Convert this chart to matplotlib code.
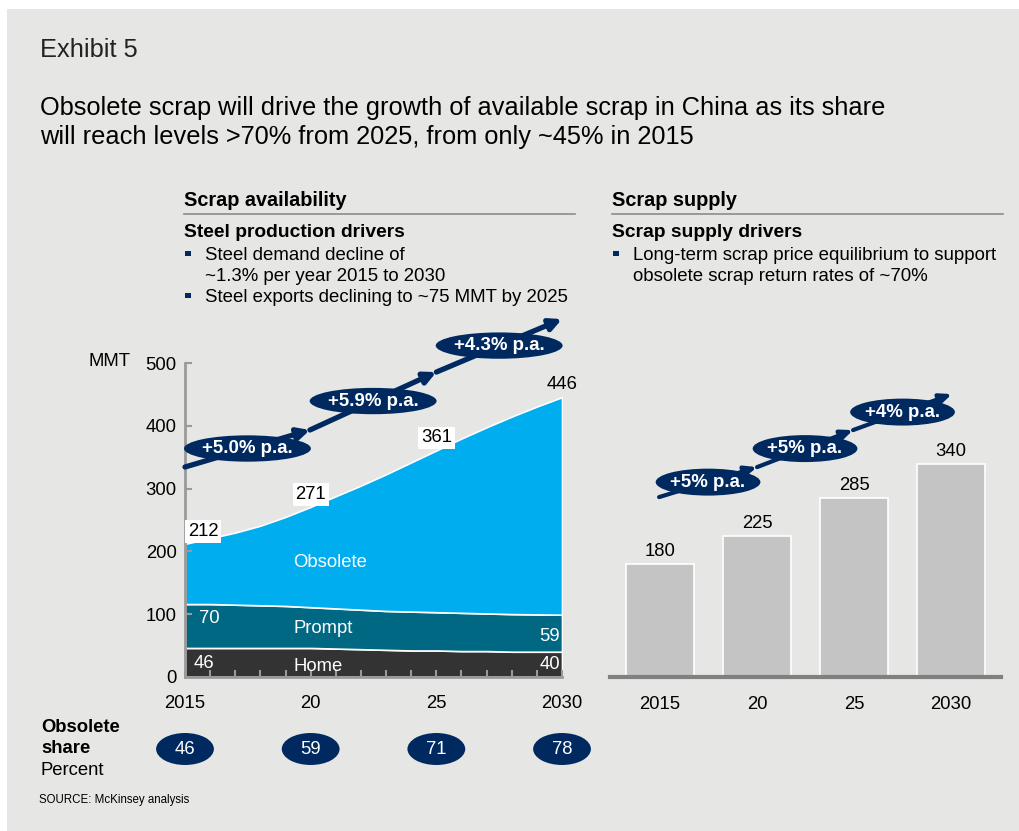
import matplotlib
matplotlib.use("Agg")
import matplotlib.pyplot as plt
from matplotlib.patches import Ellipse, Rectangle
import numpy as np

plt.rcParams['font.family'] = ['Liberation Sans', 'DejaVu Sans']

# ---------------- data ----------------
years = list(range(2015, 2031))
home = [46, 46, 46, 46, 46, 46, 45, 44, 43, 42, 42, 41, 41, 40, 40, 40]
prompt = [70, 70, 69, 68, 67, 65, 64, 63, 62, 62, 61, 61, 60, 60, 59.5, 59]
total = [212, 221, 230, 241, 255, 271, 288, 305, 323, 342, 361, 380, 398, 415, 431, 446]
obsolete = [t - h - p for t, h, p in zip(total, home, prompt)]

label_years = [2015, 2020, 2025, 2030]
total_labels = [212, 271, 361, 446]
share_pct = [46, 59, 71, 78]
left_cagr = ["+5.0% p.a.", "+5.9% p.a.", "+4.3% p.a."]

supply_cats = ["2015", "20", "25", "2030"]
supply_vals = [180, 225, 285, 340]
right_cagr = ["+5% p.a.", "+5% p.a.", "+4% p.a."]

# ---------------- style ----------------
W, H = 1019, 831
BG = "#e6e6e5"
NAVY = "#002960"
C_OBS = "#00adef"
C_PROMPT = "#006882"
C_HOME = "#333333"
C_BAR = "#c4c4c4"
GRAY = "#9a9a9a"
FS = 13.3

fig = plt.figure(figsize=(W / 100, H / 100), dpi=100)
fig.patch.set_facecolor("white")
fig.patches.append(Rectangle((7 / W, 0), 1 - 7 / W, 1 - 9 / H, transform=fig.transFigure,
                             facecolor=BG, edgecolor="none", zorder=-10))


def fx(x):
    return x / W


def fy(y):
    return 1 - y / H


# ---------------- header texts ----------------
fig.text(fx(40), fy(57), "Exhibit 5", fontsize=18.3, color="#222222", va="baseline")
fig.text(fx(40), fy(115), "Obsolete scrap will drive the growth of available scrap in China as its share",
         fontsize=18.3, color="black", va="baseline")
fig.text(fx(40), fy(144), "will reach levels >70% from 2025, from only ~45% in 2015",
         fontsize=18.3, color="black", va="baseline")

# section headers
fig.text(fx(184), fy(206), "Scrap availability", fontsize=14.3, fontweight="bold", va="baseline")
fig.text(fx(612), fy(206), "Scrap supply", fontsize=14.3, fontweight="bold", va="baseline")
fig.add_artist(plt.Line2D([fx(184), fx(575)], [fy(214), fy(214)], color="#8c8c8c", lw=1.2,
                          transform=fig.transFigure))
fig.add_artist(plt.Line2D([fx(612), fx(1003)], [fy(214), fy(214)], color="#8c8c8c", lw=1.2,
                          transform=fig.transFigure))
fig.text(fx(184), fy(237), "Steel production drivers", fontsize=13.9, fontweight="bold", va="baseline")
fig.text(fx(612), fy(237), "Scrap supply drivers", fontsize=13.9, fontweight="bold", va="baseline")


def bullet(x, y):
    fig.patches.append(Rectangle((fx(x), fy(y)), 5.5 / W, 5.5 / H, transform=fig.transFigure,
                                 facecolor=NAVY, edgecolor="none"))


left_lines = [("Steel demand decline of", True), ("~1.3% per year 2015 to 2030", False),
              ("Steel exports declining to ~75 MMT by 2025", True)]
for i, (t, b) in enumerate(left_lines):
    yb = 260 + 21 * i
    fig.text(fx(205), fy(yb), t, fontsize=13.4, va="baseline")
    if b:
        bullet(185, yb - 4)

right_lines = [("Long-term scrap price equilibrium to support", True),
               ("obsolete scrap return rates of ~70%", False)]
for i, (t, b) in enumerate(right_lines):
    yb = 260 + 21 * i
    fig.text(fx(633), fy(yb), t, fontsize=13.4, va="baseline")
    if b:
        bullet(613, yb - 4)

# ---------------- left area chart ----------------
y0, y500 = 676.8, 363.3
axL = fig.add_axes([fx(185), fy(y0), (562 - 185) / W, (y0 - y500) / H])
axL.set_facecolor("none")
axL.stackplot(years, home, prompt, obsolete, colors=[C_HOME, C_PROMPT, C_OBS],
              edgecolor="white", linewidth=1.2)
axL.set_xlim(2015, 2030)
axL.set_ylim(0, 500)
for s in ["top", "right"]:
    axL.spines[s].set_visible(False)
for s in ["left", "bottom"]:
    axL.spines[s].set_color(GRAY)
    axL.spines[s].set_linewidth(2)
axL.set_yticks(range(0, 501, 100))
axL.set_xticks(label_years)
axL.set_xticklabels(["2015", "20", "25", "2030"])
axL.set_xticks(years, minor=True)
axL.tick_params(axis="both", which="both", direction="in", color=GRAY, length=5, width=1.5,
                labelsize=FS, labelcolor="black")
axL.tick_params(axis="y", pad=6)
axL.tick_params(axis="x", pad=13)
fig.text(fx(110), fy(362), "MMT", fontsize=FS, ha="center", va="center")

# total labels
for yr, v in zip(label_years, total_labels):
    dx = 13 if yr == 2015 else 0
    boxed = yr != 2030
    axL.annotate(str(v), (yr, v), xytext=(dx, 9), textcoords="offset points",
                 ha="center", va="center", fontsize=FS, color="black", zorder=6,
                 bbox=dict(boxstyle="square,pad=0.15", fc="white", ec="none") if boxed else None,
                 annotation_clip=False)

# inner labels
axL.text(2015.55, 93, str(prompt[0]), color="white", fontsize=FS, va="center")
axL.text(2029.1, 65, str(prompt[-1]), color="white", fontsize=FS, va="center")
axL.text(2015.35, 22, str(home[0]), color="white", fontsize=FS, va="center")
axL.text(2029.1, 19, str(home[-1]), color="white", fontsize=FS, va="center")
axL.text(2019.3, 182, "Obsolete", color="white", fontsize=FS, va="center")
axL.text(2019.3, 77, "Prompt", color="white", fontsize=FS, va="center")
axL.text(2019.3, 17, "Home", color="white", fontsize=FS, va="center")

# CAGR arrows (left)
pts = [(2015.0, 334.6), (2019.97, 393.6), (2025.0, 486.0), (2030.0, 570.5)]
for i in range(3):
    axL.annotate("", xy=pts[i + 1], xytext=pts[i],
                 arrowprops=dict(arrowstyle="-|>,head_length=0.7,head_width=0.35", color=NAVY,
                                 lw=3.8, shrinkA=0, shrinkB=0),
                 annotation_clip=False, zorder=7)
    cx = (pts[i][0] + pts[i + 1][0]) / 2
    cy = (pts[i][1] + pts[i + 1][1]) / 2
    axL.add_patch(Ellipse((cx, cy), 5.05, 42, facecolor=NAVY, edgecolor="none",
                          clip_on=False, zorder=8))
    axL.text(cx, cy, left_cagr[i], color="white", fontsize=13.4, fontweight="bold",
             ha="center", va="center", zorder=9, clip_on=False)

# obsolete share row
fig.text(fx(41), fy(731.7), "Obsolete", fontsize=FS, fontweight="bold", va="baseline")
fig.text(fx(41), fy(753), "share", fontsize=FS, fontweight="bold", va="baseline")
fig.text(fx(41), fy(775), "Percent", fontsize=FS, va="baseline")
share_y = -(749 - y0) / ((y0 - y500) / 500)
for yr, v in zip(label_years, share_pct):
    axL.add_patch(Ellipse((yr, share_y), 2.3, 51, facecolor=NAVY, edgecolor="none",
                          clip_on=False, zorder=8))
    axL.text(yr, share_y, str(v), color="white", fontsize=FS, ha="center", va="center",
             zorder=9, clip_on=False)

fig.text(fx(39), fy(803), "SOURCE: McKinsey analysis", fontsize=8.3, va="baseline")

# ---------------- right bar chart ----------------
axR = fig.add_axes([fx(609.6), fy(y0), (1000.5 - 609.6) / W, (y0 - y500) / H])
axR.set_facecolor("none")
xs = np.arange(len(supply_vals))
axR.bar(xs, supply_vals, width=0.71, color=C_BAR, edgecolor="white", linewidth=1.2, zorder=2)
axR.set_xlim(-0.52, 3.51)
axR.set_ylim(0, 500)
for s in ["top", "right", "left"]:
    axR.spines[s].set_visible(False)
axR.spines["bottom"].set_color("#808080")
axR.spines["bottom"].set_linewidth(3)
axR.spines["bottom"].set_zorder(3)
axR.set_yticks([])
axR.set_xticks(xs)
axR.set_xticklabels(supply_cats)
axR.tick_params(axis="x", length=0, labelsize=FS, pad=14)
for x, v in zip(xs, supply_vals):
    axR.annotate(str(v), (x, v), xytext=(0, 9), textcoords="offset points", ha="center",
                 va="center", fontsize=FS)

ptsR = [(-0.01, 286.6), (1.0, 334.4), (1.99, 393.5), (3.01, 450.9)]
for i in range(3):
    axR.annotate("", xy=ptsR[i + 1], xytext=ptsR[i],
                 arrowprops=dict(arrowstyle="-|>,head_length=0.7,head_width=0.3", color=NAVY,
                                 lw=3, shrinkA=0, shrinkB=0),
                 annotation_clip=False, zorder=7)
    cx = (ptsR[i][0] + ptsR[i + 1][0]) / 2
    cy = (ptsR[i][1] + ptsR[i + 1][1]) / 2
    axR.add_patch(Ellipse((cx, cy), 1.08, 43, facecolor=NAVY, edgecolor="none",
                          clip_on=False, zorder=8))
    axR.text(cx, cy, right_cagr[i], color="white", fontsize=13.4, fontweight="bold",
             ha="center", va="center", zorder=9, clip_on=False)

fig.savefig("out.png", dpi=100, facecolor=fig.get_facecolor())
